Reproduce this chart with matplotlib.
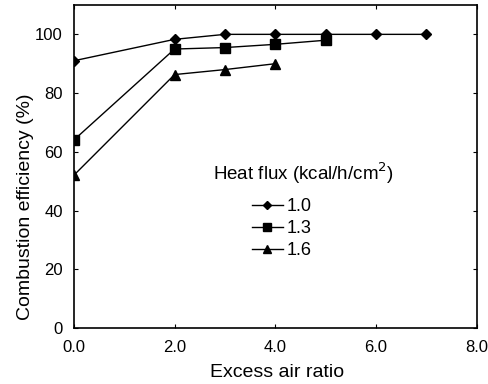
import matplotlib
matplotlib.use("Agg")
import matplotlib.pyplot as plt

plt.rcParams['font.family'] = ['Liberation Sans', 'DejaVu Sans']

x_10 = [0, 2, 3, 4, 5, 6, 7]
y_10 = [91, 98.3, 100, 100, 100, 100, 100]
x_13 = [0, 2, 3, 4, 5]
y_13 = [64, 95, 95.5, 96.6, 98]
x_16 = [0, 2, 3, 4]
y_16 = [52, 86.3, 88, 90]
labels = ["1.0", "1.3", "1.6"]
xticks = [0, 2, 4, 6, 8]
xticklabels = ["0.0", "2.0", "4.0", "6.0", "8.0"]
yticks = [0, 20, 40, 60, 80, 100]

fig = plt.figure(figsize=(4.89, 3.84), dpi=100)
ax = fig.add_axes([0.151, 0.146, 0.824, 0.841])

ax.plot(x_10, y_10, color='black', lw=1, marker='D', ms=5.5, label=labels[0])
ax.plot(x_13, y_13, color='black', lw=1, marker='s', ms=7, label=labels[1])
ax.plot(x_16, y_16, color='black', lw=1, marker='^', ms=7, label=labels[2])

ax.set_xlim(0, 8)
ax.set_ylim(0, 110)
ax.set_xticks(xticks)
ax.set_xticklabels(xticklabels)
ax.set_yticks(yticks)
ax.tick_params(direction='in', top=True, right=True, labelsize=12, length=3)
ax.tick_params(axis='x', pad=9)
ax.tick_params(axis='y', pad=8)
for s in ax.spines.values():
    s.set_linewidth(1.2)

ax.set_xlabel("Excess air ratio", fontsize=14, labelpad=0)
ax.set_ylabel("Combustion efficiency (%)", fontsize=14)
ax.xaxis.set_label_coords(0.505, -0.112)
ax.yaxis.set_label_coords(-0.10, 0.375)

ax.text(0.345, 0.48, "Heat flux (kcal/h/cm$^2$)", transform=ax.transAxes, fontsize=13.5, ha='left', va='center')
ax.legend(loc='upper left', bbox_to_anchor=(0.42, 0.43), frameon=False, fontsize=13,
          handlelength=1.7, handletextpad=0.2, labelspacing=0.28, borderpad=0, markerscale=0.8)

fig.savefig("out.png", dpi=100)
